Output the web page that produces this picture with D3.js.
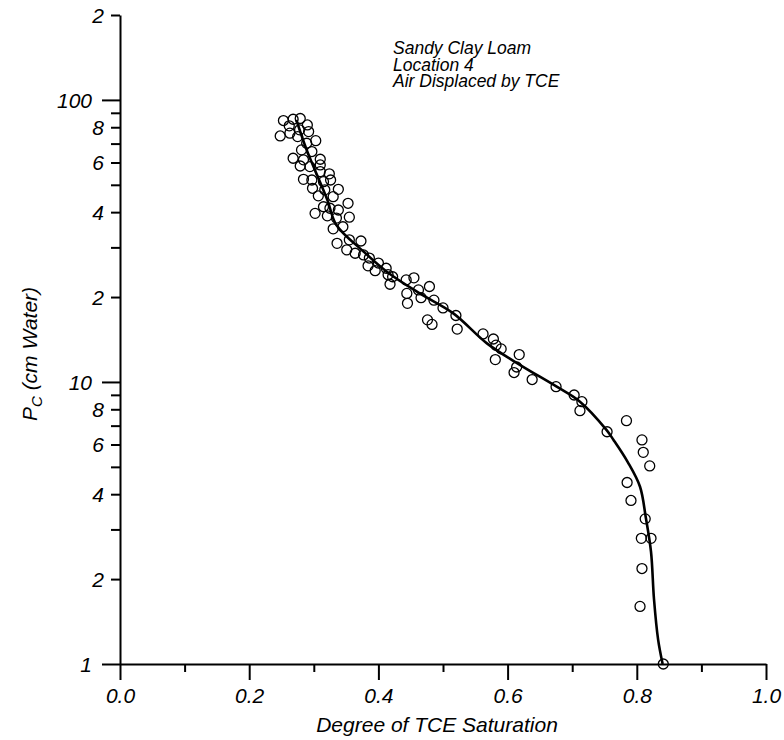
<!DOCTYPE html>
<html>
<head>
<meta charset="utf-8">
<script src="https://cdn.jsdelivr.net/npm/d3@7"></script>
<style>
body { margin: 0; background: #fff; }
text { font-family: "Liberation Sans", Arial, sans-serif; font-style: italic; fill: #000; }
</style>
</head>
<body>
<div id="chart"></div>
<script>
// measured points: degree of TCE saturation vs capillary pressure
var satX = [0.253, 0.268, 0.279, 0.290, 0.248, 0.262, 0.263, 0.278, 0.292, 0.275,
    0.303, 0.289, 0.281, 0.297, 0.268, 0.310, 0.284, 0.279, 0.294, 0.310,
    0.310, 0.324, 0.284, 0.297, 0.315, 0.326, 0.298, 0.338, 0.317, 0.307,
    0.330, 0.353, 0.315, 0.325, 0.338, 0.302, 0.321, 0.335, 0.355,
    0.330, 0.345, 0.336, 0.351, 0.355, 0.373, 0.364, 0.377, 0.386, 0.384,
    0.395, 0.400, 0.412, 0.415, 0.422, 0.418, 0.443, 0.455, 0.444, 0.445,
    0.462, 0.466, 0.479, 0.486, 0.500, 0.476, 0.483, 0.520, 0.522, 0.562,
    0.578, 0.582, 0.590, 0.581, 0.618, 0.614, 0.610, 0.638, 0.675, 0.703,
    0.715, 0.712, 0.784, 0.754, 0.808, 0.810, 0.820, 0.785, 0.791, 0.813,
    0.807, 0.822, 0.808, 0.805, 0.841];
var pcY = [84.5, 85.4, 85.9, 81.5, 74.5, 80.9, 76.2, 78.3, 77.2, 74.1,
    71.7, 70.2, 66.5, 65.6, 62.1, 61.6, 61.3, 58.3, 58.0, 58.8,
    55.7, 54.7, 52.3, 52.0, 51.3, 52.0, 48.6, 48.2, 48.0, 45.7,
    45.4, 43.0, 41.8, 41.3, 40.7, 39.6, 38.8, 38.1, 38.4,
    34.9, 35.5, 31.0, 29.4, 31.9, 31.6, 28.6, 28.2, 27.5, 25.8,
    24.8, 26.4, 25.3, 24.0, 23.6, 22.2, 23.0, 23.4, 20.6, 19.0,
    21.2, 19.9, 21.8, 19.5, 18.3, 16.6, 16.0, 17.2, 15.4, 14.8,
    14.2, 13.5, 13.1, 12.0, 12.5, 11.3, 10.8, 10.2, 9.62, 8.99,
    8.51, 7.91, 7.29, 6.66, 6.23, 5.63, 5.04, 4.4, 3.8, 3.27,
    2.79, 2.79, 2.18, 1.60, 1.00];

// fitted retention curve
var curveX = [0.273, 0.289, 0.321, 0.335, 0.377, 0.413, 0.464, 0.516, 0.568, 0.619,
    0.676, 0.712, 0.753, 0.764, 0.786, 0.805, 0.814, 0.822, 0.8266, 0.833, 0.840];
var curveY = [85, 66.5, 44.2, 36, 29, 24.6, 20.6, 17.5, 13.7, 11.5,
    9.62, 8.51, 6.76, 6.23, 5.2, 4.25, 3.3, 2.5, 1.7, 1.22, 1.0];

var xMajor = [0, 0.2, 0.4, 0.6, 0.8, 1.0];
var xMinor = [0.1, 0.3, 0.5, 0.7, 0.9];
var yTicks = [1, 2, 3, 4, 5, 6, 7, 8, 9, 10, 20, 30, 40, 50, 60, 70, 80, 90, 100, 200];
var yLabels = {1: "1", 2: "2", 4: "4", 6: "6", 8: "8", 10: "10",
    20: "2", 40: "4", 60: "6", 80: "8", 100: "100", 200: "2"};
var notes = ["Sandy Clay Loam", "Location 4", "Air Displaced by TCE"];

var width = 784, height = 740;

var svg = d3.select("#chart").append("svg")
    .attr("width", width)
    .attr("height", height);

var x = d3.scaleLinear().domain([0, 1]).range([120, 766]);
var y = d3.scaleLog().domain([1, 200]).range([664, 15]);

function isDecade(d) { return d === 1 || d === 10 || d === 100; }

/* y axis (log) */
var yAxis = svg.append("g")
    .attr("transform", "translate(120,0)")
    .call(d3.axisLeft(y).tickValues(yTicks).tickSizeOuter(0)
        .tickFormat(function (d) { return yLabels[d] || ""; }));
yAxis.selectAll(".tick line")
    .attr("x2", function (d) { return isDecade(d) ? -18 : -9; });
yAxis.selectAll(".tick text")
    .attr("x", function (d) { return isDecade(d) ? -28 : -16; })
    .attr("dy", "0.35em");

/* x axis */
var xAxis = svg.append("g")
    .attr("transform", "translate(0,664)")
    .call(d3.axisBottom(x).tickValues(xMajor.concat(xMinor)).tickSizeOuter(0)
        .tickFormat(function (d) { return xMinor.indexOf(d) >= 0 ? "" : d3.format(".1f")(d); }));
xAxis.selectAll(".tick line")
    .attr("y2", function (d) { return xMinor.indexOf(d) >= 0 ? 8 : 16; });
xAxis.selectAll(".tick text")
    .attr("y", 39)
    .attr("dy", 0);

svg.selectAll(".domain, .tick line")
    .attr("stroke", "#000")
    .attr("stroke-width", 2);
svg.selectAll(".tick text")
    .attr("font-size", 21)
    .attr("fill", "#000");
svg.selectAll("g").attr("font-family", null).attr("font-size", null);

/* fitted curve */
var line = d3.line()
    .x(function (d, i) { return x(curveX[i]); })
    .y(function (d, i) { return y(curveY[i]); })
    .curve(d3.curveCatmullRom);

svg.append("path")
    .datum(curveX)
    .attr("d", line)
    .attr("fill", "none")
    .attr("stroke", "#000")
    .attr("stroke-width", 2.6);

/* data circles */
svg.append("g").selectAll("circle")
    .data(satX)
    .enter().append("circle")
    .attr("cx", function (d) { return x(d); })
    .attr("cy", function (d, i) { return y(pcY[i]); })
    .attr("r", 5)
    .attr("fill", "none")
    .attr("stroke", "#000")
    .attr("stroke-width", 1.3);

/* annotation */
svg.append("g").selectAll("text")
    .data(notes)
    .enter().append("text")
    .attr("x", 393)
    .attr("y", function (d, i) { return 54 + i * 16.7; })
    .attr("font-size", 17.5)
    .text(function (d) { return d; });

/* axis titles */
svg.append("text")
    .attr("x", 437)
    .attr("y", 732)
    .attr("text-anchor", "middle")
    .attr("font-size", 21)
    .text("Degree of TCE Saturation");

var yTitle = svg.append("text")
    .attr("transform", "translate(37,354) rotate(-90)")
    .attr("text-anchor", "middle")
    .attr("font-size", 21);
yTitle.append("tspan").text("P");
yTitle.append("tspan").attr("font-size", 15).attr("dy", 5).text("C");
yTitle.append("tspan").attr("dy", -5).text(" (cm Water)");
</script>
</body>
</html>
